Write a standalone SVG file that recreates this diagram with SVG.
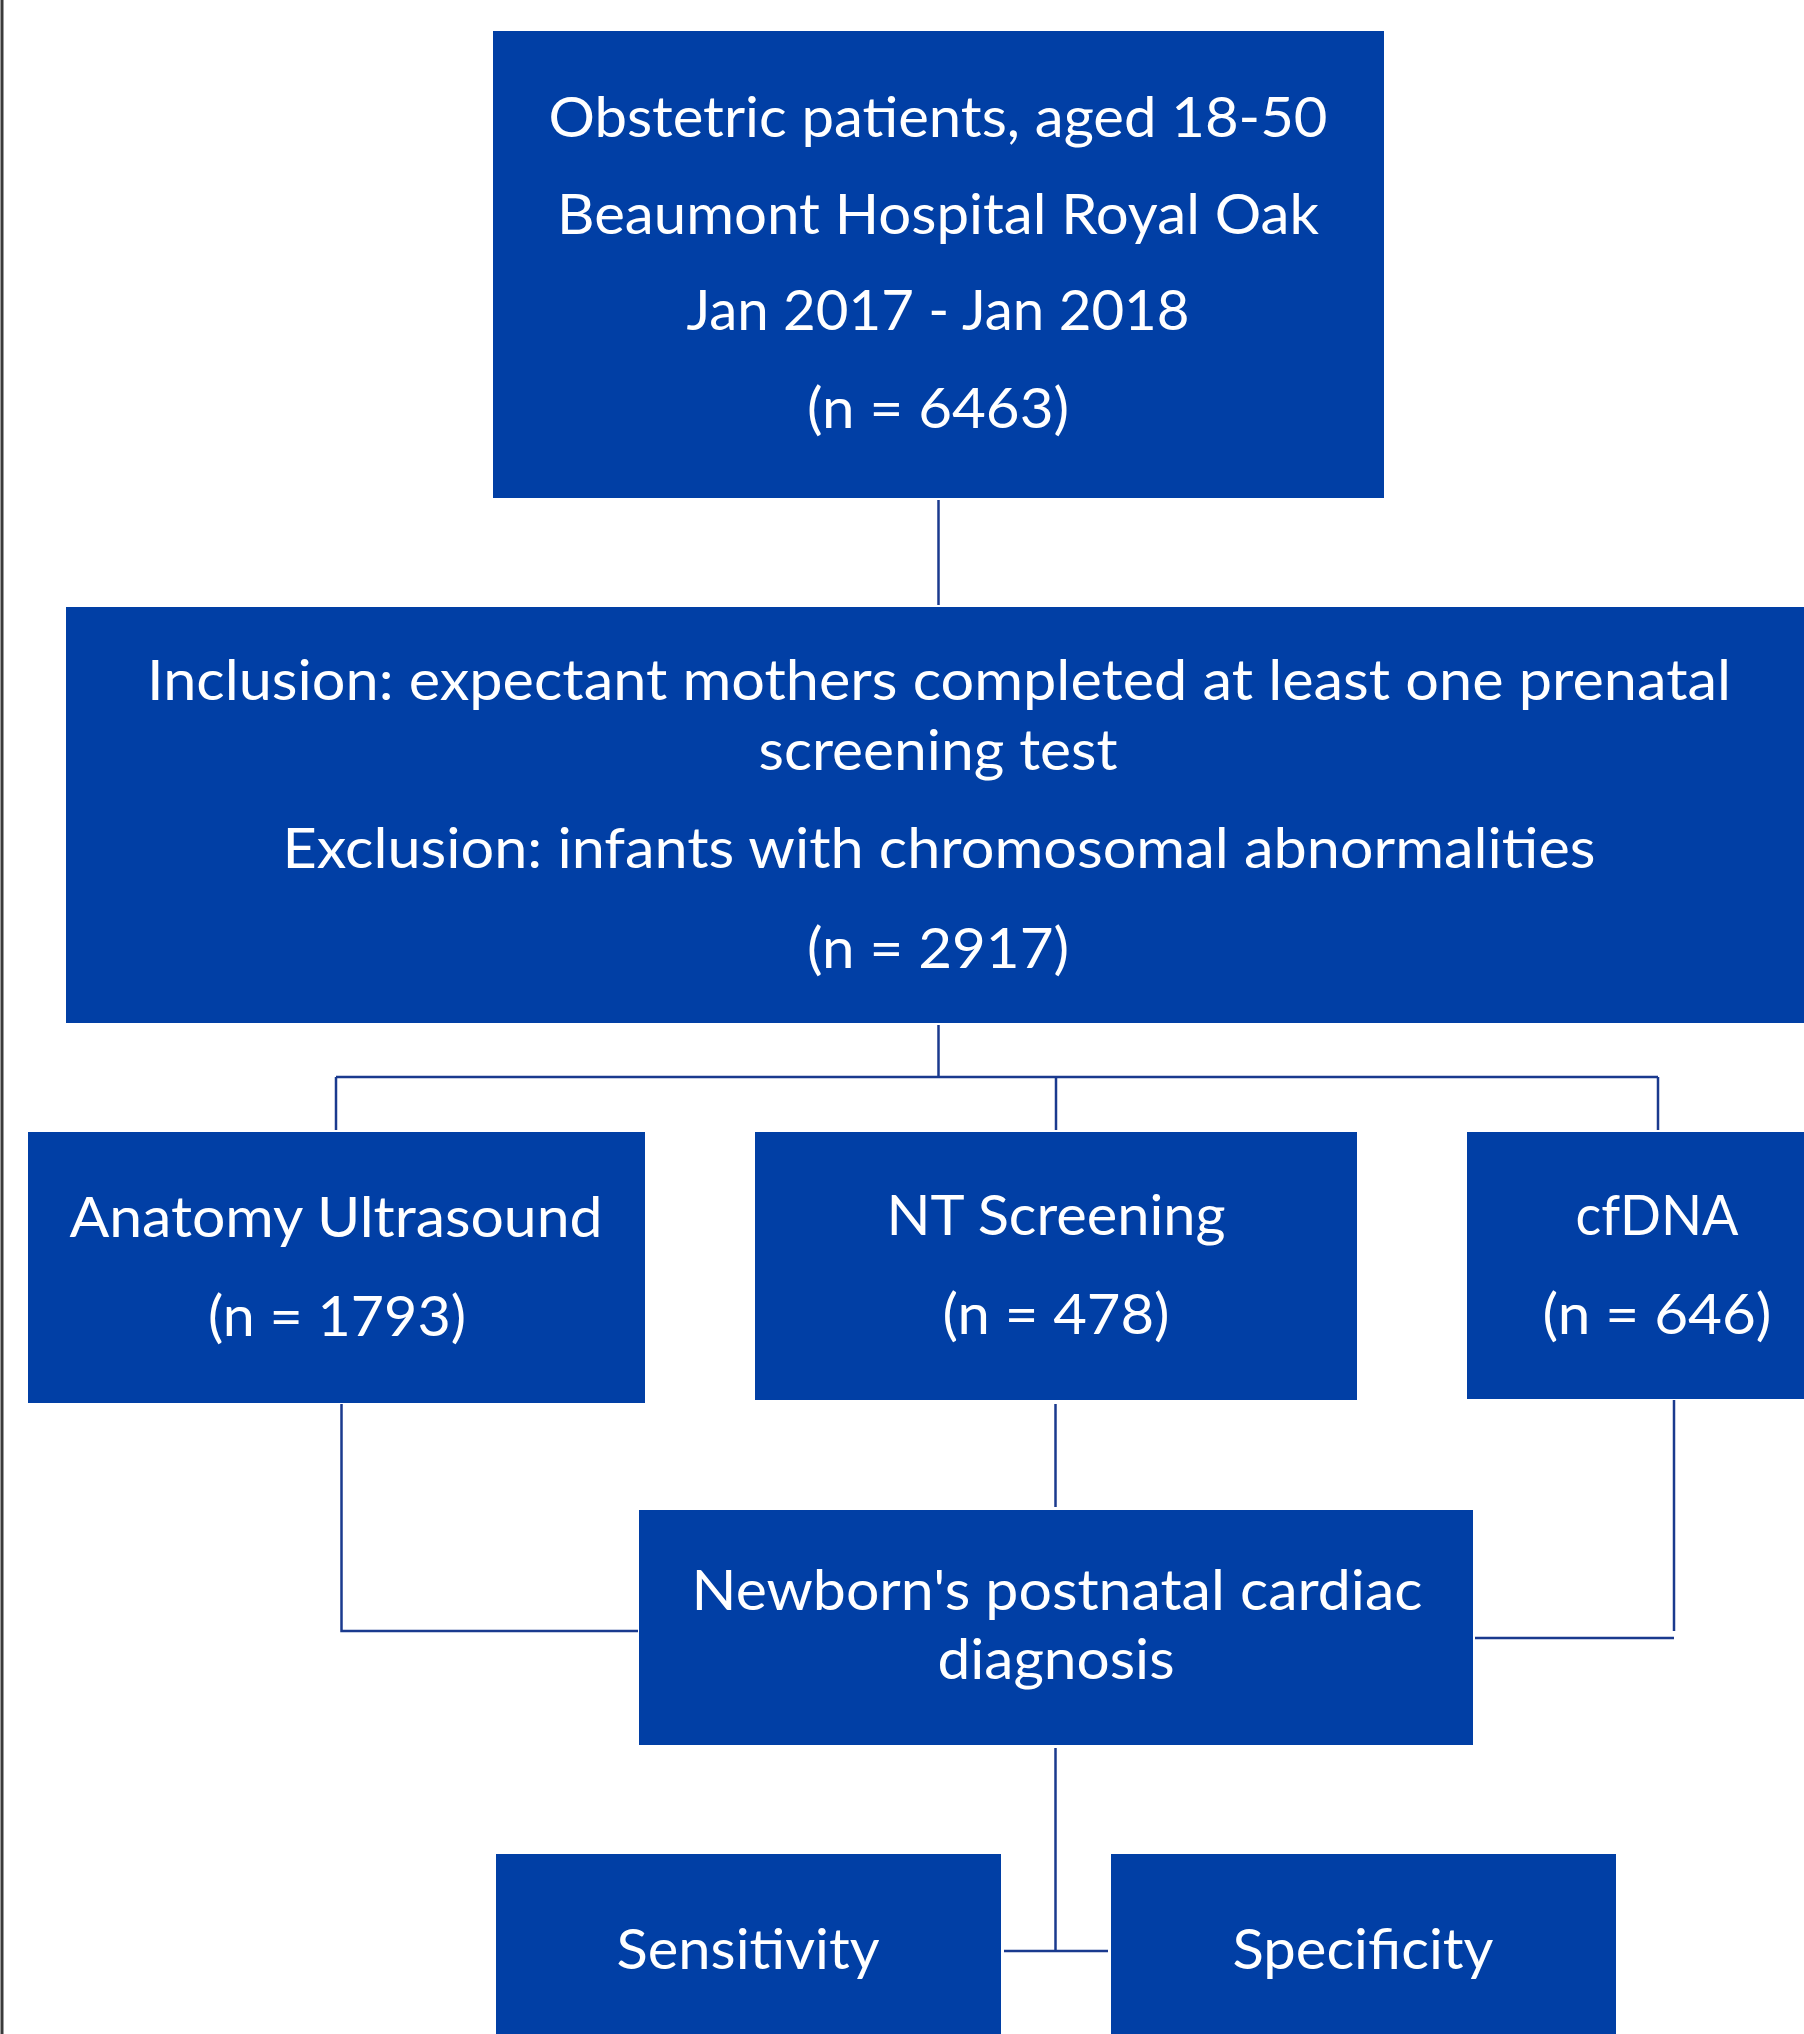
<svg xmlns="http://www.w3.org/2000/svg" width="1804" height="2034" viewBox="0 0 1804 2034">
<style>
.box{fill:#013FA5;}
.t{fill:#ffffff;font-family:Lato,"Open Sans","Liberation Sans",sans-serif;font-size:56px;text-anchor:middle;}
.c{stroke:#1A3A8E;stroke-width:2.5;fill:none;}
</style>
<rect x="0" y="0" width="1804" height="2034" fill="#ffffff"/>
<line x1="2" y1="0" x2="2" y2="2034" stroke="#3a3a3a" stroke-width="3"/>
<g id="connectors">
<line class="c" x1="938.5" y1="500" x2="938.5" y2="605"/>
<line class="c" x1="938.5" y1="1025" x2="938.5" y2="1077"/>
<line class="c" x1="336" y1="1077" x2="1658" y2="1077"/>
<line class="c" x1="336" y1="1077" x2="336" y2="1130"/>
<line class="c" x1="1056" y1="1077" x2="1056" y2="1130"/>
<line class="c" x1="1658" y1="1077" x2="1658" y2="1130"/>
<polyline class="c" points="341.5,1404 341.5,1631 638,1631" stroke-width="1.5"/>
<line class="c" x1="1055.5" y1="1404" x2="1055.5" y2="1507"/>
<line class="c" x1="1674" y1="1400" x2="1674" y2="1631" stroke-width="1.5"/>
<line class="c" x1="1475" y1="1638" x2="1674" y2="1638" stroke-width="1.5"/>
<line class="c" x1="1055.5" y1="1748" x2="1055.5" y2="1951"/>
<line class="c" x1="1004" y1="1951" x2="1108" y2="1951"/>
</g>
<g id="node-population">
<rect class="box" x="493" y="31" width="891" height="467"/>
<text class="t" x="938" y="137" textLength="779" lengthAdjust="spacingAndGlyphs">Obstetric patients, aged 18-50</text>
<text class="t" x="938" y="234" textLength="762" lengthAdjust="spacingAndGlyphs">Beaumont Hospital Royal Oak</text>
<text class="t" x="938" y="330" textLength="503" lengthAdjust="spacingAndGlyphs">Jan 2017 - Jan 2018</text>
<text class="t" x="938" y="428" textLength="262" lengthAdjust="spacingAndGlyphs">(n = 6463)</text>
</g>
<g id="node-criteria">
<rect class="box" x="66" y="607" width="1750" height="416"/>
<text class="t" x="939" y="700" textLength="1584" lengthAdjust="spacingAndGlyphs">Inclusion: expectant mothers completed at least one prenatal</text>
<text class="t" x="938" y="770" textLength="359" lengthAdjust="spacingAndGlyphs">screening test</text>
<text class="t" x="939" y="868" textLength="1313" lengthAdjust="spacingAndGlyphs">Exclusion: infants with chromosomal abnormalities</text>
<text class="t" x="938" y="968" textLength="262" lengthAdjust="spacingAndGlyphs">(n = 2917)</text>
</g>
<g id="node-anatomy">
<rect class="box" x="28" y="1132" width="617" height="271"/>
<text class="t" x="336" y="1237" textLength="533" lengthAdjust="spacingAndGlyphs">Anatomy Ultrasound</text>
<text class="t" x="337" y="1336" textLength="258" lengthAdjust="spacingAndGlyphs">(n = 1793)</text>
</g>
<g id="node-nt">
<rect class="box" x="755" y="1132" width="602" height="268"/>
<text class="t" x="1056" y="1235" textLength="339" lengthAdjust="spacingAndGlyphs">NT Screening</text>
<text class="t" x="1056" y="1334" textLength="227" lengthAdjust="spacingAndGlyphs">(n = 478)</text>
</g>
<g id="node-cfdna">
<rect class="box" x="1467" y="1132" width="383" height="267"/>
<text class="t" x="1657" y="1235" textLength="163" lengthAdjust="spacingAndGlyphs">cfDNA</text>
<text class="t" x="1657" y="1334" textLength="229" lengthAdjust="spacingAndGlyphs">(n = 646)</text>
</g>
<g id="node-newborn">
<rect class="box" x="639" y="1510" width="834" height="235"/>
<text class="t" x="1057" y="1610" textLength="731" lengthAdjust="spacingAndGlyphs">Newborn's postnatal cardiac</text>
<text class="t" x="1056" y="1679" textLength="237" lengthAdjust="spacingAndGlyphs">diagnosis</text>
</g>
<g id="node-sensitivity">
<rect class="box" x="496" y="1854" width="505" height="190"/>
<text class="t" x="748" y="1969" textLength="263" lengthAdjust="spacingAndGlyphs">Sensitivity</text>
</g>
<g id="node-specificity">
<rect class="box" x="1111" y="1854" width="505" height="190"/>
<text class="t" x="1363" y="1969" textLength="261" lengthAdjust="spacingAndGlyphs">Specificity</text>
</g>
</svg>
